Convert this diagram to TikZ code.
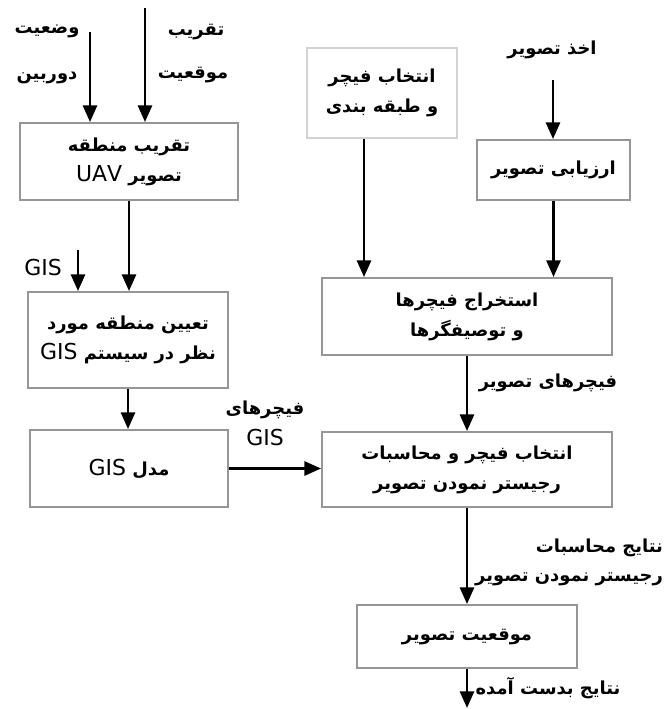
\documentclass[tikz,border=0pt]{standalone}
\usepackage{fontspec}
\setmainfont{DejaVu Sans}
\newfontfamily\arabicfont[Script=Arabic]{DejaVu Sans}
\TeXXeTstate=1
\usetikzlibrary{arrows.meta}

\definecolor{reg@edge}{RGB}{150,150,150}
\definecolor{reg@pale}{RGB}{210,210,210}
\definecolor{reg@ink}{RGB}{0,0,0}

% one right-to-left line, and a Latin word inside it
\newcommand{\fa}[1]{{\arabicfont\bfseries\beginR #1\endR}}
\newcommand{\la}[1]{{\mdseries\fontsize{12.5}{15}\selectfont\beginL #1\endL}}

\tikzset{
  regbox/.style={draw=reg@edge, line width=1.1pt, fill=white, align=center,
    inner sep=2pt, font=\fontsize{10.2}{17}\selectfont},
  reglabel/.style={align=center, inner sep=1pt, font=\fontsize{10.2}{15}\selectfont},
  regflow/.style={draw=reg@ink, line width=1.5pt,
    -{Triangle[length=9.5pt, width=8pt]}}
}

\begin{document}
\begin{tikzpicture}[x=0.02cm, y=-0.02cm]
  % Bounding box = the reference frame, 668 x 709
  \path[use as bounding box] (0,0) rectangle (668,709);

  % ---- LEFT COLUMN ----
  \node[regbox, minimum width=4.36cm, minimum height=1.54cm] (area) at (129,161.5)
    {\fa{تقریب منطقه}\\\fa{تصویر \la{UAV}}};
  \node[regbox, minimum width=4.0cm, minimum height=1.92cm] (roi) at (128,340)
    {\fa{تعیین منطقه مورد}\\\fa{نظر در سیستم \la{GIS}}};
  \node[regbox, minimum width=3.96cm, minimum height=1.54cm] (gismodel) at (129,468.5)
    {\fa{مدل \la{GIS}}};

  \node[reglabel] (camlbl) at (47,31) {\fa{وضعیت}};
  \node[reglabel] (camlbl2) at (47,78) {\fa{دوربین}};
  \node[reglabel] (poslbl) at (196,32) {\fa{تقریب}};
  \node[reglabel] (poslbl2) at (193,75) {\fa{موقعیت}};
  \node[reglabel] (gislbl) at (43,268) {\la{GIS}};
  \node[reglabel] (gisfeat) at (265,410) {\fa{فیچرهای}};
  \node[reglabel] (gisfeat2) at (265,438) {\la{GIS}};

  \coordinate (camin) at (90,32);
  \coordinate (posin) at (145,8);
  \coordinate (gisin) at (78,250);

  \draw[regflow] (camin) -- (camin |- area.north);
  \draw[regflow] (posin) -- (posin |- area.north);
  \draw[regflow] (area.south) -- (area.south |- roi.north);
  \draw[regflow] (gisin) -- (gisin |- roi.north);
  \draw[regflow] (roi.south) -- (roi.south |- gismodel.north);

  % ---- RIGHT COLUMN ----
  \node[regbox, draw=reg@pale, minimum width=3.0cm, minimum height=1.8cm] (classify) at (382,93)
    {\fa{انتخاب فیچر}\\\fa{و طبقه بندی}};
  \node[regbox, minimum width=3.06cm, minimum height=1.2cm] (assess) at (553.5,170)
    {\fa{ارزیابی تصویر}};
  \node[regbox, minimum width=5.8cm, minimum height=1.54cm] (extract) at (467,316.5)
    {\fa{استخراج فیچرها}\\\fa{و توصیفگرها}};
  \node[regbox, minimum width=5.8cm, minimum height=1.5cm] (register) at (467,469.5)
    {\fa{انتخاب فیچر و محاسبات}\\\fa{رجیستر نمودن تصویر}};
  \node[regbox, minimum width=4.4cm, minimum height=1.26cm] (imgpos) at (467,636.5)
    {\fa{موقعیت تصویر}};

  \node[reglabel] (acqlbl) at (552,50) {\fa{اخذ تصویر}};
  \node[reglabel] (featlbl) at (548,383) {\fa{فیچرهای تصویر}};
  \node[reglabel, align=right, anchor=east, font=\fontsize{10.2}{16.5}\selectfont] (reslbl) at (665,562)
    {\fa{نتایج محاسبات}\\\fa{رجیستر نمودن تصویر}};
  \node[reglabel] (outlbl) at (548,688) {\fa{نتایج بدست آمده}};

  \coordinate (acqin) at (553,80);
  \coordinate (out) at (467,708);

  \draw[regflow] (acqin) -- (acqin |- assess.north);
  \draw[regflow] ([xshift=-0.36cm]classify.south) -- ([xshift=-0.36cm]classify.south |- extract.north);
  \draw[regflow] (assess.south) -- (assess.south |- extract.north);
  \draw[regflow] (extract.south) -- (register.north);
  \draw[regflow] (gismodel.east) -- (gismodel.east -| register.west);
  \draw[regflow] (register.south) -- (imgpos.north);
  \draw[regflow] (imgpos.south) -- (out);
\end{tikzpicture}
\end{document}
